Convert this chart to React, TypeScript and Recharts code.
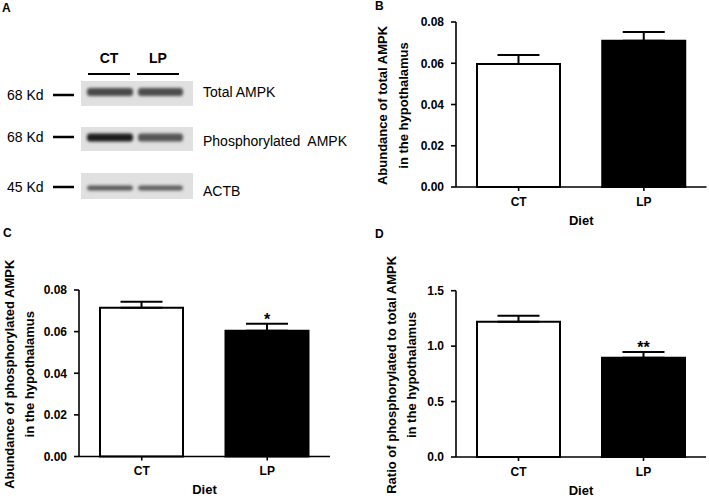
import React from "react";
import { BarChart, Bar, XAxis, YAxis, ErrorBar, Cell, LabelList } from "recharts";

const categories = ["CT", "LP"];
const barFills = ["#ffffff", "#000000"];

const totalAmpkMean = [0.0596, 0.0709];
const totalAmpkErr = [0.0044, 0.0042];
const phosAmpkMean = [0.0715, 0.0604];
const phosAmpkErr = [0.0029, 0.0034];
const ratioMean = [1.22, 0.896];
const ratioErr = [0.054, 0.051];
const phosSig = ["", "*"];
const ratioSig = ["", "**"];

const abundanceTicks = [0, 0.02, 0.04, 0.06, 0.08];
const ratioTicks = [0, 0.5, 1.0, 1.5];

const xAxisTitle = "Diet";
const titleB = ["Abundance of total AMPK", "in the hypothalamus"];
const titleC = ["Abundance of phosphorylated AMPK", "in the hypothalamus"];
const titleD = ["Ratio of phosphorylated to total AMPK", "in the hypothalamus"];

const blotLabels = ["Total AMPK", "Phosphorylated  AMPK", "ACTB"];
const blotMarkers = ["68 Kd", "68 Kd", "45 Kd"];

const FONT = '"Liberation Sans", Arial, Helvetica, sans-serif';

type Row = { cat: string; mean: number; err: number[]; errUp: number; sig: string };

function buildRows(mean: number[], err: number[], sig?: string[]): Row[] {
  return categories.map((c, i) => ({
    cat: c,
    mean: mean[i],
    err: [0, err[i]],
    errUp: err[i],
    sig: sig ? sig[i] : "",
  }));
}

function makeYTitle(lines: string[], x1: number, x2: number) {
  return (props: any) => {
    const vb = props.viewBox || {};
    const cy = (vb.y ?? 0) + (vb.height ?? 0) / 2 + 1;
    return (
      <g>
        {[x1, x2].map((x, i) => (
          <text
            key={i}
            x={x}
            y={cy}
            transform={`rotate(-90, ${x}, ${cy})`}
            textAnchor="middle"
            dominantBaseline="central"
            fontFamily={FONT}
            fontWeight={700}
            fontSize={13}
            fill="#000"
          >
            {lines[i]}
          </text>
        ))}
      </g>
    );
  };
}

function makeXTitle(text: string) {
  return (props: any) => {
    const vb = props.viewBox || {};
    const cx = (vb.x ?? 0) + (vb.width ?? 0) / 2;
    const cy = (vb.y ?? 0) + 33;
    return (
      <text
        x={cx}
        y={cy}
        textAnchor="middle"
        dominantBaseline="central"
        fontFamily={FONT}
        fontWeight={700}
        fontSize={13}
        fill="#000"
      >
        {text}
      </text>
    );
  };
}

function makeSig(rows: Row[]) {
  return (props: any) => {
    const { x, y, width, height, index, value } = props;
    if (!value) return null;
    const r = rows[index];
    const pxPerUnit = height / r.mean;
    const top = y - r.errUp * pxPerUnit;
    return (
      <text
        x={x + width / 2}
        y={top + 1}
        textAnchor="middle"
        fontFamily={FONT}
        fontWeight={700}
        fontSize={16}
        fill="#000"
      >
        {value}
      </text>
    );
  };
}

type PanelProps = {
  left: number;
  top: number;
  width: number;
  height: number;
  margin: { top: number; right: number; bottom: number; left: number };
  yWidth: number;
  xHeight: number;
  rows: Row[];
  domain: [number, number];
  ticks: number[];
  decimals: number;
  title: string[];
  titleX: [number, number];
};

function Panel(p: PanelProps) {
  const tickStyle = { fill: "#000", fontSize: 12, fontWeight: 700, fontFamily: FONT };
  return (
    <div style={{ position: "absolute", left: p.left, top: p.top }}>
      <BarChart width={p.width} height={p.height} data={p.rows} margin={p.margin}>
        <XAxis
          dataKey="cat"
          stroke="#000"
          strokeWidth={1.6}
          tickSize={4}
          tickMargin={6}
          tick={tickStyle}
          height={p.xHeight}
          interval={0}
          label={makeXTitle(xAxisTitle)}
        />
        <YAxis
          type="number"
          domain={p.domain}
          ticks={p.ticks}
          interval={0}
          tickFormatter={(v: number) => v.toFixed(p.decimals)}
          width={p.yWidth}
          stroke="#000"
          strokeWidth={1.6}
          tickSize={5}
          tickMargin={7}
          tick={tickStyle}
          label={makeYTitle(p.title, p.titleX[0], p.titleX[1])}
        />
        <Bar dataKey="mean" barSize={83} isAnimationActive={false} stroke="#000" strokeWidth={2}>
          {p.rows.map((r, i) => (
            <Cell key={i} fill={barFills[i]} stroke="#000" strokeWidth={2} />
          ))}
          <ErrorBar dataKey="err" width={21} stroke="#000" strokeWidth={2} direction="y" isAnimationActive={false} />
          <LabelList dataKey="sig" content={makeSig(p.rows)} />
        </Bar>
      </BarChart>
    </div>
  );
}

function Blot() {
  const rowsY = [
    { top: 81, h: 25, band: 92, bh: 8, ct: "#4a4a4a", lp: "#4e4e4e" },
    { top: 127, h: 24, band: 137.5, bh: 8, ct: "#1a1a1a", lp: "#555555" },
    { top: 173, h: 26, band: 188, bh: 5, ct: "#5a5a5a", lp: "#5e5e5e" },
  ];
  const markerY = [95, 137, 187];
  const labelY = [91.5, 140.5, 191];
  return (
    <svg width={360} height={230} style={{ position: "absolute", left: 0, top: 0 }}>
      <defs>
        <filter id="bl" x="-20%" y="-100%" width="140%" height="300%">
          <feGaussianBlur stdDeviation="1.5" />
        </filter>
      </defs>
      <text x={109} y={63} textAnchor="middle" fontFamily={FONT} fontWeight={700} fontSize={14} fill="#000">
        CT
      </text>
      <text x={158} y={63} textAnchor="middle" fontFamily={FONT} fontWeight={700} fontSize={14} fill="#000">
        LP
      </text>
      <line x1={88} x2={130} y1={74} y2={74} stroke="#000" strokeWidth={2} />
      <line x1={137} x2={179} y1={74} y2={74} stroke="#000" strokeWidth={2} />
      {rowsY.map((r, i) => (
        <g key={i}>
          <rect x={81} y={r.top} width={112} height={r.h} fill="#e0e0e0" />
          <rect
            x={87}
            y={r.band - r.bh / 2}
            width={46}
            height={r.bh}
            rx={3}
            fill={r.ct}
            filter="url(#bl)"
          />
          <rect
            x={138}
            y={r.band - r.bh / 2}
            width={45}
            height={r.bh}
            rx={3}
            fill={r.lp}
            filter="url(#bl)"
          />
          <text
            x={7}
            y={markerY[i]}
            dominantBaseline="central"
            fontFamily={FONT}
            fontSize={14}
            fill="#000"
          >
            {blotMarkers[i]}
          </text>
          <line x1={53} x2={74} y1={markerY[i]} y2={markerY[i]} stroke="#000" strokeWidth={2.5} />
          <text
            x={203}
            y={labelY[i]}
            dominantBaseline="central"
            fontFamily={FONT}
            fontSize={14}
            fill="#000"
            style={{ whiteSpace: "pre" }}
            xmlSpace="preserve"
          >
            {blotLabels[i]}
          </text>
        </g>
      ))}
    </svg>
  );
}

function PanelLetters() {
  const letters = [
    { t: "A", x: 2, y: 12 },
    { t: "B", x: 375, y: 10 },
    { t: "C", x: 3, y: 237 },
    { t: "D", x: 375, y: 238 },
  ];
  return (
    <svg width={709} height={501} style={{ position: "absolute", left: 0, top: 0, pointerEvents: "none" }}>
      {letters.map((l) => (
        <text key={l.t} x={l.x} y={l.y} fontFamily={FONT} fontWeight={700} fontSize={12} fill="#000">
          {l.t}
        </text>
      ))}
    </svg>
  );
}

export default function App() {
  const rowsB = buildRows(totalAmpkMean, totalAmpkErr);
  const rowsC = buildRows(phosAmpkMean, phosAmpkErr, phosSig);
  const rowsD = buildRows(ratioMean, ratioErr, ratioSig);
  return (
    <div
      style={{
        position: "absolute",
        left: 0,
        top: 0,
        width: 709,
        height: 501,
        background: "#fff",
        overflow: "hidden",
        fontFamily: FONT,
      }}
    >
      <Blot />
      <Panel
        left={360}
        top={0}
        width={349}
        height={230}
        margin={{ top: 22, right: 2.5, bottom: 0, left: 0 }}
        yWidth={96}
        xHeight={43}
        rows={rowsB}
        domain={[0, 0.08]}
        ticks={abundanceTicks}
        decimals={2}
        title={titleB}
        titleX={[22, 43]}
      />
      <Panel
        left={0}
        top={250}
        width={340}
        height={251}
        margin={{ top: 40, right: 10, bottom: 0, left: 0 }}
        yWidth={79}
        xHeight={44.5}
        rows={rowsC}
        domain={[0, 0.08]}
        ticks={abundanceTicks}
        decimals={2}
        title={titleC}
        titleX={[9.5, 29.5]}
      />
      <Panel
        left={360}
        top={250}
        width={349}
        height={251}
        margin={{ top: 40.7, right: 3, bottom: 0, left: 0 }}
        yWidth={96}
        xHeight={44}
        rows={rowsD}
        domain={[0, 1.5]}
        ticks={ratioTicks}
        decimals={1}
        title={titleD}
        titleX={[32, 52]}
      />
      <PanelLetters />
    </div>
  );
}
